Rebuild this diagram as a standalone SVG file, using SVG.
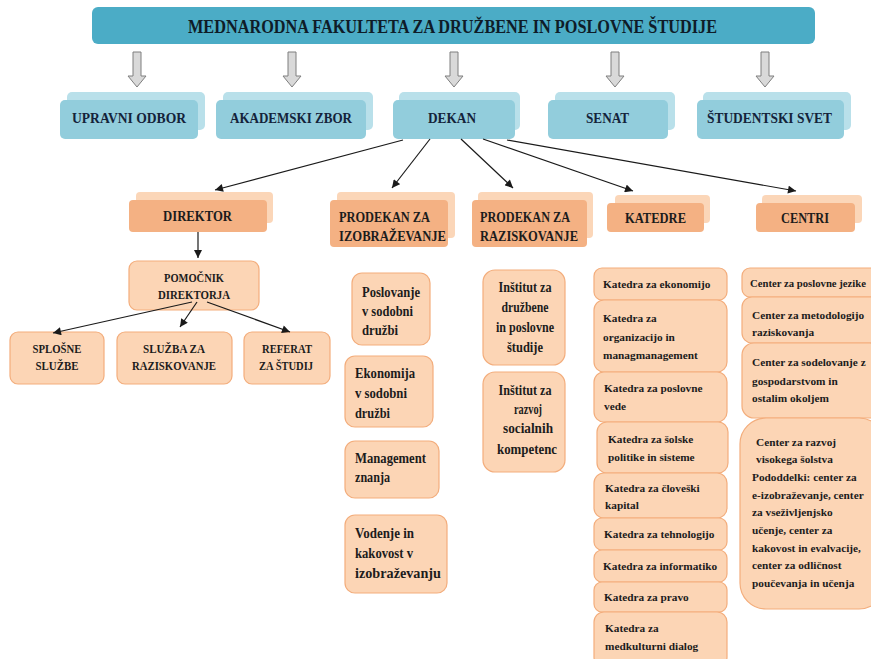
<svg xmlns="http://www.w3.org/2000/svg" width="871" height="659" viewBox="0 0 871 659">
<style>
text{font-family:"Liberation Serif","Times New Roman",serif;font-weight:bold;fill:#1c1c1c}
.t{font-size:18px;fill:#0f1c28}
.b{font-size:15px;fill:#14233a}
.h{font-size:15px}
.m{font-size:13px}
.p{font-size:15px}
.s{font-size:11.3px}
.c{text-anchor:middle}
.bf{fill:#92cddc}
.bb{fill:#b9e0ea}
.of{fill:#f4b183}
.ob{fill:#fbd6b8}
.lb{fill:#fcd5b5;stroke:#f3ad7c;stroke-width:1.2}
.ga{fill:#d9d9d9;stroke:#7f7f7f;stroke-width:1}
.cn{stroke:#1a1a1a;stroke-width:1.2;fill:none;marker-end:url(#ah)}
</style>
<defs>
<marker id="ah" viewBox="0 0 10 10" refX="10" refY="5" markerWidth="9" markerHeight="8" markerUnits="userSpaceOnUse" orient="auto">
<path d="M0,0 L10,5 L0,10 z" fill="#1a1a1a"/>
</marker>
<path id="garrow" d="M-4,0 H4 V24 H9 L0,35 L-9,24 H-4 Z"/>
</defs>

<g id="title">
<rect x="92" y="7" width="723" height="37" rx="6" fill="#4bacc6"/>
<text class="t" x="188" y="33" textLength="529" lengthAdjust="spacingAndGlyphs">MEDNARODNA FAKULTETA ZA DRUŽBENE IN POSLOVNE ŠTUDIJE</text>
</g>

<g id="gray-arrows">
<use href="#garrow" class="ga" x="137" y="52"/>
<use href="#garrow" class="ga" x="292" y="52"/>
<use href="#garrow" class="ga" x="454" y="52"/>
<use href="#garrow" class="ga" x="615" y="52"/>
<use href="#garrow" class="ga" x="765" y="52"/>
</g>

<g id="upravni-odbor">
<rect class="bb" x="67" y="92" width="138" height="38" rx="5"/>
<rect class="bf" x="60" y="100" width="138" height="39" rx="5"/>
<text class="b" x="72" y="123" textLength="114" lengthAdjust="spacingAndGlyphs">UPRAVNI ODBOR</text>
</g>
<g id="akademski-zbor">
<rect class="bb" x="223" y="92" width="150" height="38" rx="5"/>
<rect class="bf" x="216" y="100" width="150" height="39" rx="5"/>
<text class="b" x="230" y="123" textLength="122" lengthAdjust="spacingAndGlyphs">AKADEMSKI ZBOR</text>
</g>
<g id="dekan">
<rect class="bb" x="399" y="92" width="121" height="38" rx="5"/>
<rect class="bf" x="393" y="100" width="122" height="39" rx="5"/>
<text class="b" x="428" y="123" textLength="48" lengthAdjust="spacingAndGlyphs">DEKAN</text>
</g>
<g id="senat">
<rect class="bb" x="555" y="92" width="120" height="38" rx="5"/>
<rect class="bf" x="548" y="100" width="120" height="39" rx="5"/>
<text class="b" x="586" y="123" textLength="43" lengthAdjust="spacingAndGlyphs">SENAT</text>
</g>
<g id="studentski-svet">
<rect class="bb" x="703" y="92" width="148" height="38" rx="5"/>
<rect class="bf" x="697" y="100" width="147" height="39" rx="5"/>
<text class="b" x="707" y="123" textLength="125" lengthAdjust="spacingAndGlyphs">ŠTUDENTSKI SVET</text>
</g>

<g id="direktor">
<rect class="ob" x="136" y="192" width="137" height="31" rx="4"/>
<rect class="of" x="129" y="200" width="138" height="32" rx="4"/>
<text class="h" x="163" y="221" textLength="69" lengthAdjust="spacingAndGlyphs">DIREKTOR</text>
</g>
<g id="prodekan-izobrazevanje">
<rect class="ob" x="337" y="192" width="118" height="46" rx="4"/>
<rect class="of" x="330" y="200" width="118" height="47" rx="4"/>
<text class="h" x="339" y="222" textLength="91" lengthAdjust="spacingAndGlyphs">PRODEKAN ZA</text>
<text class="h" x="339" y="241" textLength="107" lengthAdjust="spacingAndGlyphs">IZOBRAŽEVANJE</text>
</g>
<g id="prodekan-raziskovanje">
<rect class="ob" x="478" y="192" width="115" height="46" rx="4"/>
<rect class="of" x="472" y="200" width="115" height="47" rx="4"/>
<text class="h" x="480" y="222" textLength="90" lengthAdjust="spacingAndGlyphs">PRODEKAN ZA</text>
<text class="h" x="480" y="241" textLength="98" lengthAdjust="spacingAndGlyphs">RAZISKOVANJE</text>
</g>
<g id="katedre">
<rect class="ob" x="615" y="195" width="95" height="28" rx="4"/>
<rect class="of" x="607" y="203" width="97" height="29" rx="4"/>
<text class="h" x="625" y="223" textLength="61" lengthAdjust="spacingAndGlyphs">KATEDRE</text>
</g>
<g id="centri">
<rect class="ob" x="762" y="195" width="100" height="28" rx="4"/>
<rect class="of" x="756" y="203" width="99" height="29" rx="4"/>
<text class="h" x="781" y="223" textLength="48" lengthAdjust="spacingAndGlyphs">CENTRI</text>
</g>

<g id="pomocnik-direktorja">
<rect class="lb" x="129" y="261" width="130" height="49" rx="8"/>
<text class="m c" x="194" y="282" textLength="60" lengthAdjust="spacingAndGlyphs">POMOČNIK</text>
<text class="m c" x="194" y="299" textLength="72" lengthAdjust="spacingAndGlyphs">DIREKTORJA</text>
</g>
<g id="splosne-sluzbe">
<rect class="lb" x="10" y="332" width="94" height="52" rx="8"/>
<text class="m c" x="57" y="353" textLength="49" lengthAdjust="spacingAndGlyphs">SPLOŠNE</text>
<text class="m c" x="57" y="370" textLength="43" lengthAdjust="spacingAndGlyphs">SLUŽBE</text>
</g>
<g id="sluzba-za-raziskovanje">
<rect class="lb" x="117" y="332" width="115" height="52" rx="8"/>
<text class="m c" x="174" y="353" textLength="62" lengthAdjust="spacingAndGlyphs">SLUŽBA ZA</text>
<text class="m c" x="174" y="370" textLength="84" lengthAdjust="spacingAndGlyphs">RAZISKOVANJE</text>
</g>
<g id="referat-za-studij">
<rect class="lb" x="244" y="332" width="86" height="52" rx="8"/>
<text class="m c" x="287" y="353" textLength="50" lengthAdjust="spacingAndGlyphs">REFERAT</text>
<text class="m c" x="286" y="370" textLength="54" lengthAdjust="spacingAndGlyphs">ZA ŠTUDIJ</text>
</g>

<g id="poslovanje">
<rect class="lb" x="352" y="273" width="78" height="72" rx="10"/>
<text class="p" x="362" y="297" textLength="58" lengthAdjust="spacingAndGlyphs">Poslovanje</text>
<text class="p" x="362" y="316" textLength="51" lengthAdjust="spacingAndGlyphs">v sodobni</text>
<text class="p" x="362" y="335" textLength="36" lengthAdjust="spacingAndGlyphs">družbi</text>
</g>
<g id="ekonomija">
<rect class="lb" x="345" y="356" width="88" height="71" rx="10"/>
<text class="p" x="355" y="378" textLength="60" lengthAdjust="spacingAndGlyphs">Ekonomija</text>
<text class="p" x="355" y="398" textLength="52" lengthAdjust="spacingAndGlyphs">v sodobni</text>
<text class="p" x="355" y="418" textLength="35" lengthAdjust="spacingAndGlyphs">družbi</text>
</g>
<g id="management">
<rect class="lb" x="345" y="441" width="94" height="57" rx="10"/>
<text class="p" x="355" y="463" textLength="71" lengthAdjust="spacingAndGlyphs">Management</text>
<text class="p" x="355" y="482" textLength="35" lengthAdjust="spacingAndGlyphs">znanja</text>
</g>
<g id="vodenje">
<rect class="lb" x="345" y="515" width="102" height="78" rx="10"/>
<text class="p" x="355" y="538" textLength="59" lengthAdjust="spacingAndGlyphs">Vodenje in</text>
<text class="p" x="355" y="558" textLength="58" lengthAdjust="spacingAndGlyphs">kakovost v</text>
<text class="p" x="355" y="578" textLength="86" lengthAdjust="spacingAndGlyphs">izobraževanju</text>
</g>

<g id="institut-druzbene">
<rect class="lb" x="483" y="270" width="82" height="95" rx="12"/>
<text class="p c" x="525" y="292" textLength="53" lengthAdjust="spacingAndGlyphs">Inštitut za</text>
<text class="p c" x="525" y="312" textLength="47" lengthAdjust="spacingAndGlyphs">družbene</text>
<text class="p c" x="525" y="332" textLength="58" lengthAdjust="spacingAndGlyphs">in poslovne</text>
<text class="p c" x="525" y="352" textLength="36" lengthAdjust="spacingAndGlyphs">študije</text>
</g>
<g id="institut-razvoj">
<rect class="lb" x="483" y="372" width="82" height="100" rx="12"/>
<text class="p c" x="525" y="395" textLength="53" lengthAdjust="spacingAndGlyphs">Inštitut za</text>
<text class="p c" x="528" y="414" textLength="28" lengthAdjust="spacingAndGlyphs">razvoj</text>
<text class="p c" x="528" y="433" textLength="50" lengthAdjust="spacingAndGlyphs">socialnih</text>
<text class="p c" x="527" y="454" textLength="60" lengthAdjust="spacingAndGlyphs">kompetenc</text>
</g>

<g id="katedra-ekonomija">
<rect class="lb" x="594" y="268" width="133" height="32" rx="8"/>
<text class="s" x="603" y="288">Katedra za ekonomijo</text>
</g>
<g id="katedra-organizacija">
<rect class="lb" x="594" y="300" width="133" height="72" rx="10"/>
<text class="s" x="603" y="322">Katedra za</text>
<text class="s" x="603" y="341">organizacijo in</text>
<text class="s" x="603" y="359">managmanagement</text>
</g>
<g id="katedra-poslovne-vede">
<rect class="lb" x="594" y="372" width="133" height="50" rx="10"/>
<text class="s" x="604" y="392">Katedra za poslovne</text>
<text class="s" x="604" y="410">vede</text>
</g>
<g id="katedra-solske">
<rect class="lb" x="597" y="422" width="131" height="51" rx="10"/>
<text class="s" x="608" y="443">Katedra za šolske</text>
<text class="s" x="608" y="461">politike in sisteme</text>
</g>
<g id="katedra-cloveski">
<rect class="lb" x="594" y="473" width="133" height="45" rx="10"/>
<text class="s" x="605" y="492">Katedra za človeški</text>
<text class="s" x="605" y="509">kapital</text>
</g>
<g id="katedra-tehnologija">
<rect class="lb" x="594" y="518" width="133" height="32" rx="8"/>
<text class="s" x="604" y="538">Katedra za tehnologijo</text>
</g>
<g id="katedra-informatika">
<rect class="lb" x="594" y="550" width="133" height="32" rx="8"/>
<text class="s" x="603" y="570">Katedra za informatiko</text>
</g>
<g id="katedra-pravo">
<rect class="lb" x="594" y="582" width="133" height="30" rx="8"/>
<text class="s" x="604" y="601">Katedra za pravo</text>
</g>
<g id="katedra-medkulturni">
<rect class="lb" x="594" y="612" width="133" height="55" rx="10"/>
<text class="s" x="605" y="632">Katedra za</text>
<text class="s" x="605" y="650">medkulturni dialog</text>
</g>

<g id="center-jeziki">
<rect class="lb" x="742" y="268" width="140" height="29" rx="8"/>
<text class="s" x="750" y="287" textLength="116" lengthAdjust="spacingAndGlyphs">Center za poslovne jezike</text>
</g>
<g id="center-metodologija">
<rect class="lb" x="742" y="297" width="140" height="46" rx="10"/>
<text class="s" x="752" y="319">Center za metodologijo</text>
<text class="s" x="752" y="336">raziskovanja</text>
</g>
<g id="center-sodelovanje">
<rect class="lb" x="742" y="343" width="140" height="75" rx="12"/>
<text class="s" x="752" y="366">Center za sodelovanje z</text>
<text class="s" x="752" y="385">gospodarstvom in</text>
<text class="s" x="752" y="402">ostalim okoljem</text>
</g>
<g id="center-razvoj">
<rect class="lb" x="740" y="418" width="145" height="191" rx="26"/>
<text class="s" x="756" y="446">Center za razvoj</text>
<text class="s" x="756" y="463">visokega šolstva</text>
<text class="s" x="752" y="481">Pododdelki: center za</text>
<text class="s" x="752" y="499">e-izobraževanje, center</text>
<text class="s" x="752" y="516">za vseživljenjsko</text>
<text class="s" x="752" y="534">učenje, center za</text>
<text class="s" x="752" y="552">kakovost in evalvacije,</text>
<text class="s" x="752" y="569">center za odličnost</text>
<text class="s" x="752" y="587">poučevanja in učenja</text>
</g>

<g id="connectors">
<line class="cn" x1="403" y1="140" x2="215" y2="190"/>
<line class="cn" x1="430" y1="139" x2="392" y2="188"/>
<line class="cn" x1="461" y1="139" x2="513" y2="188"/>
<line class="cn" x1="483" y1="139" x2="633" y2="191"/>
<line class="cn" x1="507" y1="140" x2="796" y2="191"/>
<line class="cn" x1="198" y1="232" x2="198" y2="258"/>
<line class="cn" x1="192" y1="302" x2="53" y2="333"/>
<line class="cn" x1="197" y1="302" x2="180" y2="327"/>
<line class="cn" x1="207" y1="302" x2="290" y2="332"/>
</g>
</svg>
